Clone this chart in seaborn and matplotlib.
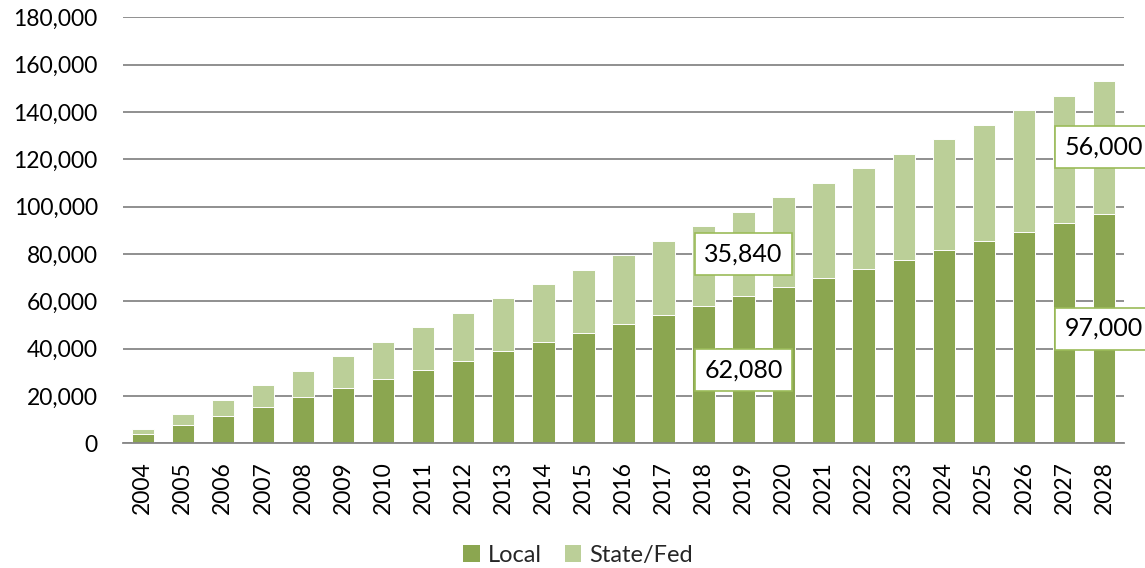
import matplotlib
matplotlib.use("Agg")
import matplotlib.pyplot as plt
from matplotlib.patches import Patch
from matplotlib.ticker import FuncFormatter
import seaborn as sns
import pandas as pd

years = [str(y) for y in range(2004, 2029)]
local = [3880, 7760, 11640, 15520, 19400, 23280, 27160, 31040, 34920, 38800,
         42680, 46560, 50440, 54320, 58200, 62080, 65960, 69840, 73720, 77600,
         81480, 85360, 89240, 93120, 97000]
state_fed = [2240, 4480, 6720, 8960, 11200, 13440, 15680, 17920, 20160, 22400,
             24640, 26880, 29120, 31360, 33600, 35840, 38080, 40320, 42560, 44800,
             47040, 49280, 51520, 53760, 56000]
labeled_years = ["2019", "2028"]

LOCAL_C = "#8ba650"
STATE_C = "#bbcf98"
GRID_C = "#878787"
BOX_C = "#9bbb59"

sns.set_theme(style="white")
plt.rcParams["font.family"] = ["Lato", "DejaVu Sans"]

df = pd.DataFrame({"year": years, "local": local, "state": state_fed})
df["total"] = df["local"] + df["state"]

fig = plt.figure(figsize=(11.45, 5.68), dpi=100)
ax = fig.add_axes([0.1072, 0.2195, 0.8745, 0.75])

sns.barplot(data=df, x="year", y="total", color=STATE_C, saturation=1, width=0.56,
            edgecolor="white", linewidth=0.7, ax=ax, zorder=3)
sns.barplot(data=df, x="year", y="local", color=LOCAL_C, saturation=1, width=0.56,
            edgecolor="white", linewidth=0.7, ax=ax, zorder=3)

ax.set_ylim(0, 180000)
ax.set_xlim(-0.5, len(years) - 0.5)
ax.set_yticks(range(0, 180001, 20000))
ax.yaxis.set_major_formatter(FuncFormatter(lambda v, p: f"{int(v):,}"))
ax.grid(axis="y", color=GRID_C, linewidth=1.3, zorder=0)
ax.grid(axis="x", visible=False)
for s in ["top", "right", "left"]:
    ax.spines[s].set_visible(False)
ax.spines["bottom"].set_color(GRID_C)
ax.spines["bottom"].set_linewidth(1.3)
ax.spines["bottom"].set_zorder(4)
ax.tick_params(axis="y", length=0, pad=18, labelsize=16.5, labelcolor="black")
ax.tick_params(axis="x", length=0, pad=13, labelsize=16.5, labelcolor="black", rotation=90)
ax.set_xlabel("")
ax.set_ylabel("")

for yr in labeled_years:
    i = years.index(yr)
    lv, sv = local[i], state_fed[i]
    for val, yc in [(lv, lv / 2), (sv, lv + sv / 2)]:
        ax.text(i, yc, f"{val:,}", ha="center", va="center", fontsize=18, color="black",
                zorder=6, clip_on=False,
                bbox=dict(boxstyle="square,pad=0.38", facecolor="white",
                          edgecolor=BOX_C, linewidth=1.2))

handles = [Patch(facecolor=LOCAL_C, edgecolor="none", label="Local"),
           Patch(facecolor=STATE_C, edgecolor="none", label="State/Fed")]
fig.legend(handles=handles, loc="center", bbox_to_anchor=(0.505, 0.022), ncol=2,
           frameon=False, fontsize=17, handlelength=0.7, handleheight=0.7,
           handletextpad=0.35, columnspacing=0.95)

fig.savefig("out.png", dpi=100)
